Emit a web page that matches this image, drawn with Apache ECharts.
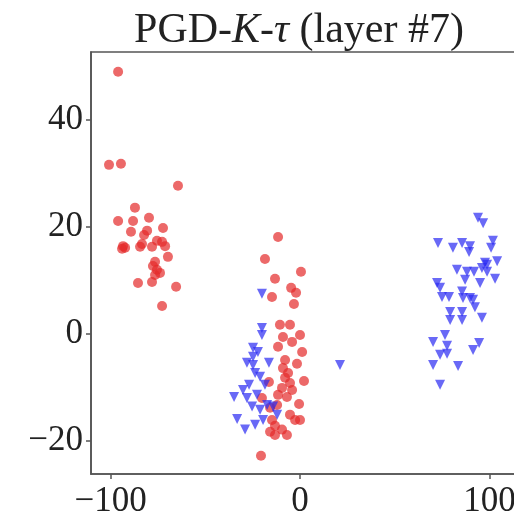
<!DOCTYPE html>
<html><head><meta charset="utf-8">
<script src="https://cdn.jsdelivr.net/npm/echarts@6/dist/echarts.min.js"></script>
<style>html,body{margin:0;padding:0;background:#fff}#c{width:514px;height:514px}</style>
</head><body><div id="c"></div>
<script>
const xTicks = [-100, 0, 100];
const yTicks = [-20, 0, 20, 40];
// class A (red circles): [x, y]
const redPoints = [
 [-96.0,49.0],[-100.8,31.6],[-94.5,31.8],[-64.4,27.7],[-87.1,23.6],[-96.0,21.1],[-88.1,21.1],[-79.7,21.7],
 [-72.3,19.8],[-89.2,19.1],[-80.7,19.3],[-82.3,18.5],[-93.4,16.4],[-92.3,16.1],[-93.9,15.9],[-84.4,16.3],
 [-83.4,16.8],[-78.1,16.3],[-75.5,17.4],[-72.8,17.2],[-71.2,16.4],[-69.7,14.4],[-76.5,13.5],[-77.6,12.7],
 [-75.5,12.0],[-73.9,11.4],[-76.5,11.0],[-78.1,9.7],[-85.5,9.5],[-65.4,8.8],[-72.8,5.2],
 [-11.6,18.1],[-18.5,14.0],[0.5,11.6],[-13.2,10.3],[-4.7,8.6],[-2.1,7.7],[-14.8,6.9],[-3.2,5.6],
 [-10.6,1.7],[-5.3,1.7],[0.0,-0.2],[-9.0,-0.6],[-4.2,-1.5],[-11.6,-2.4],[1.1,-3.4],[-7.9,-4.9],
 [-1.6,-5.6],[-9.0,-6.4],[-6.3,-7.3],[-7.9,-8.2],[2.1,-8.8],[-5.3,-9.2],[-16.4,-9.0],[-9.5,-10.1],
 [-4.2,-10.5],[-11.6,-11.4],[-6.9,-11.8],[-20.1,-12.0],[-0.5,-13.1],[-12.1,-13.3],[-15.8,-13.8],
 [-5.3,-15.1],[0.0,-16.1],[-2.6,-16.1],[-14.8,-16.1],[-13.2,-17.2],[-9.5,-17.9],[-6.9,-18.9],
 [-13.2,-18.9],[-15.8,-18.3],[-20.6,-22.8]
];
// class B (blue down-triangles): [x, y]
const bluePoints = [
 [-20.1,7.5],[-20.1,1.1],[-20.1,-0.2],[-24.8,-2.6],[-22.2,-3.4],[-24.8,-4.3],[-28.0,-5.4],[-24.8,-5.8],
 [-16.4,-5.4],[-23.7,-7.3],[-21.1,-8.0],[-26.9,-9.5],[-18.5,-9.5],[-30.1,-10.5],[-34.8,-11.8],
 [-28.0,-12.0],[-22.7,-11.4],[-25.3,-13.6],[-21.1,-14.2],[-17.4,-13.3],[-33.2,-15.9],[-23.7,-17.0],
 [-29.0,-17.9],[-19.5,-16.1],[-12.1,-15.1],[-14.2,-13.6],[21.1,-5.8],
 [93.9,21.7],[96.6,20.7],[72.8,17.0],[80.7,16.1],[85.5,17.0],[89.7,16.4],[89.2,15.3],[101.8,17.4],
 [100.8,16.1],[104.0,13.6],[97.6,13.3],[98.7,12.9],[96.0,12.3],[82.8,12.0],[88.1,11.6],[91.8,11.6],
 [87.1,10.1],[98.7,11.6],[102.9,10.3],[95.0,9.5],[72.3,9.5],[73.9,8.6],[74.9,6.9],[78.6,6.9],
 [85.5,7.9],[86.0,6.7],[89.7,6.7],[91.3,6.4],[92.3,5.0],[79.2,4.1],[85.5,4.1],[79.2,2.6],[85.5,2.6],
 [96.0,3.0],[76.5,-0.2],[70.2,-1.5],[77.6,-2.2],[94.5,-1.7],[91.3,-3.0],[73.9,-3.9],[77.6,-3.7],
 [70.2,-5.8],[83.4,-6.0],[73.9,-9.5]
];
const fmt = v => (v < 0 ? '\u2212' + Math.abs(v) : String(v));
const chart = echarts.init(document.getElementById('c'), null, {renderer: 'canvas'});
const axisStyle = {onZero: false, lineStyle: {color: '#555', width: 1.6}};
const tickStyle = {color: '#555', width: 1.5};
chart.setOption({
  animation: false,
  title: {
    text: 'PGD-{i|K}-{i|\u03c4} (layer #7)',
    left: 294, top: 5, textAlign: 'center',
    textStyle: {
      fontFamily: 'Liberation Serif', fontSize: 42, fontWeight: 'normal', color: '#222',
      rich: {i: {fontFamily: 'Liberation Serif', fontStyle: 'italic', fontSize: 42, color: '#222'}}
    }
  },
  grid: {left: 91, top: 52, width: 430, height: 422, show: true, borderColor: '#555', borderWidth: 1.6,
         containLabel: false, outerBoundsMode: 'none'},
  xAxis: {
    type: 'value', min: -110.3, max: 116.6,
    splitLine: {show: false},
    axisLine: axisStyle,
    axisTick: {show: true, length: 5, customValues: xTicks, lineStyle: tickStyle},
    axisLabel: {customValues: xTicks, formatter: fmt, margin: 10, fontFamily: 'Liberation Serif', fontSize: 35, color: '#222'}
  },
  yAxis: {
    type: 'value', min: -26.2, max: 52.7,
    splitLine: {show: false},
    axisLine: axisStyle,
    axisTick: {show: true, length: 5, customValues: yTicks, lineStyle: tickStyle},
    axisLabel: {customValues: yTicks, formatter: fmt, margin: 8, fontFamily: 'Liberation Serif', fontSize: 35, color: '#222'}
  },
  series: [
    {type: 'scatter', data: redPoints, symbol: 'circle', symbolSize: 10,
     itemStyle: {color: '#e42a2a', opacity: 0.7}},
    {type: 'scatter', data: bluePoints, symbol: 'triangle', symbolRotate: 180, symbolSize: 10,
     itemStyle: {color: '#2a2af2', opacity: 0.7}}
  ]
});
</script></body></html>
